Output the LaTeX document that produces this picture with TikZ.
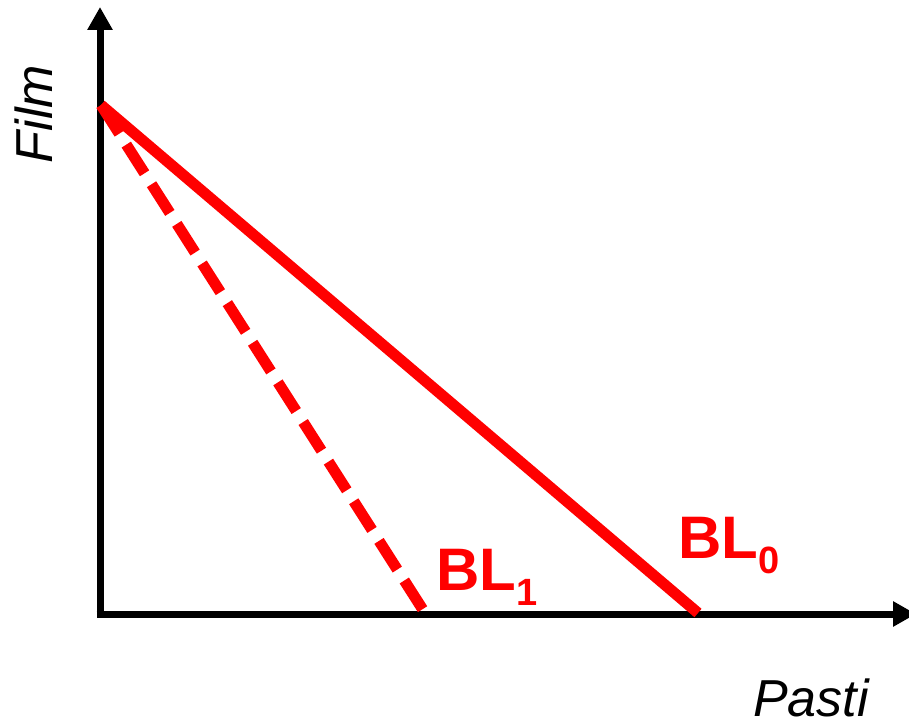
\documentclass[tikz,border=0pt]{standalone}
\usepackage{fontspec}
\setmainfont{Liberation Sans}
\usetikzlibrary{arrows.meta}
\newcommand{\mysub}[1]{\raisebox{-15pt}{\fontsize{38}{38}\selectfont #1}}
\tikzset{
  axisline/.style={line width=7pt, black, -{Triangle[length=23pt,width=24pt]}},
  redline/.style={line width=11pt, red},
  reddash/.style={line width=11pt, red, dash pattern=on 34pt off 13pt},
  bllabel/.style={text=red, font=\fontsize{60}{60}\selectfont\bfseries, anchor=base west, inner sep=0pt},
  axislabel/.style={font=\fontsize{52}{52}\selectfont\itshape, inner sep=0pt}
}
\begin{document}
\begin{tikzpicture}[x=1pt,y=-1pt]
\useasboundingbox (0,0) rectangle (909,727);
\coordinate (O) at (100,614);
\coordinate (ytop) at (100,7);
\coordinate (xend) at (916,614);
\coordinate (corner) at (96.5,614);
\coordinate (A) at (101,105);
\coordinate (B0) at (698,613);
\coordinate (B1) at (425,613);
\draw[axisline] (O) -- (ytop);
\draw[axisline] (corner) -- (xend);
\draw[redline] (A) -- (B0);
\draw[reddash] (A) -- (B1);
\node[bllabel] (bl1) at (436,590) {BL\mysub{1}};
\node[bllabel] (bl0) at (678,558) {BL\mysub{0}};
\node[axislabel, rotate=90, anchor=base] (film) at (52,114) {Film};
\node[axislabel, anchor=base] (pasti) at (811,716) {Pasti};
\end{tikzpicture}
\end{document}
